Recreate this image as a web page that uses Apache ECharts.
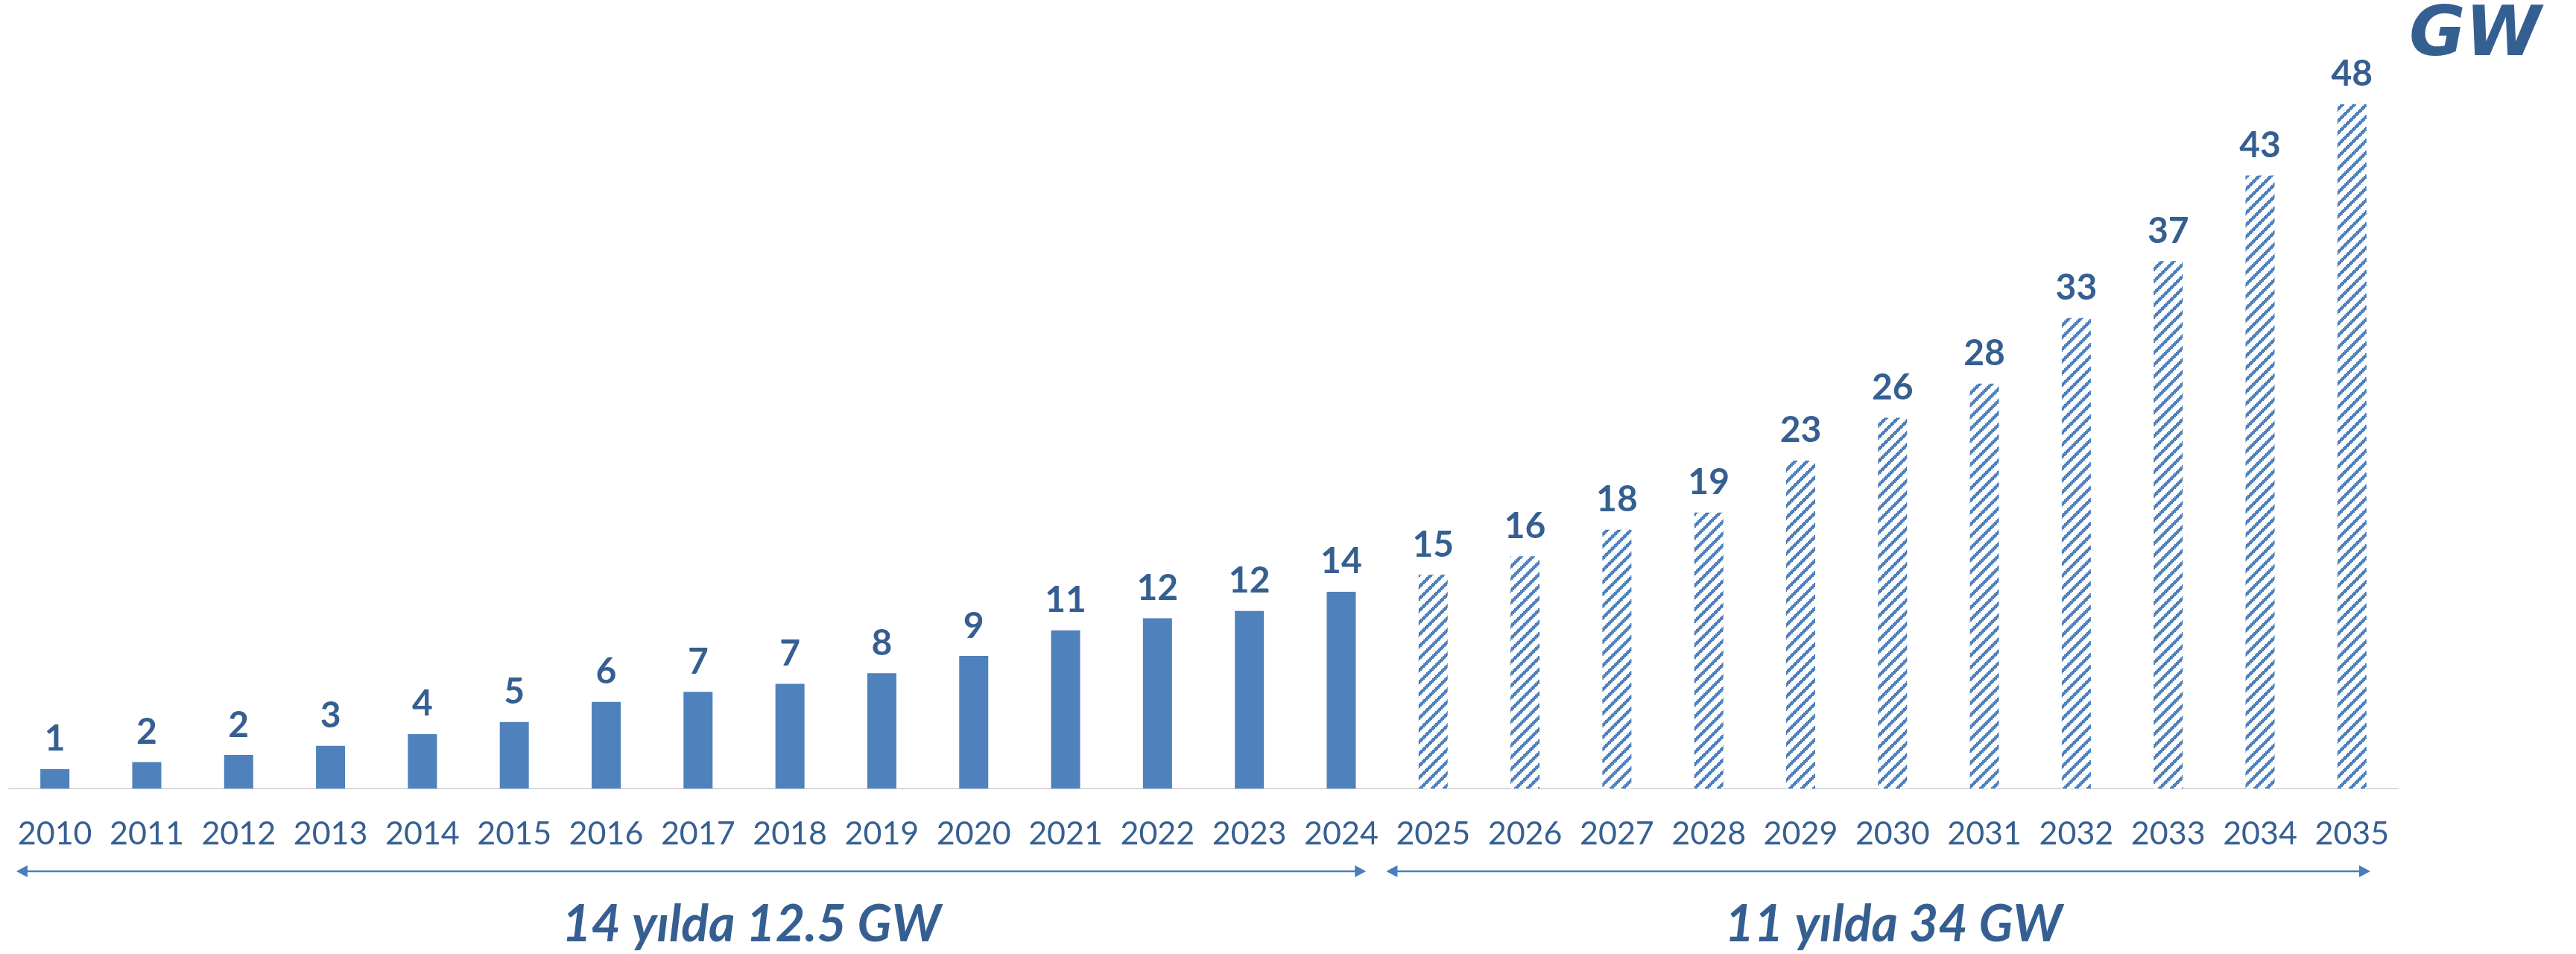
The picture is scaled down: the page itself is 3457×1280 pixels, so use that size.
<!DOCTYPE html>
<html><head><meta charset="utf-8">
<script src="https://cdn.jsdelivr.net/npm/echarts@6/dist/echarts.min.js"></script>
<style>html,body{margin:0;padding:0;background:#fff}#c{width:3457px;height:1280px}</style>
</head><body><div id="c"></div>
<script>
// ---- data ----
const years = ['2010','2011','2012','2013','2014','2015','2016','2017','2018','2019','2020','2021','2022','2023','2024','2025','2026','2027','2028','2029','2030','2031','2032','2033','2034','2035'];
const actualValues = [1.36, 1.85, 2.35, 2.99, 3.82, 4.67, 6.08, 6.78, 7.35, 8.09, 9.3, 11.1, 11.95, 12.45, 13.8];
const forecastValues = [15.0, 16.3, 18.15, 19.35, 23.0, 26.0, 28.4, 33.0, 37.0, 43.0, 48.0];
const unitLabel = 'GW';
const periodLabels = ['14 yılda 12.5 GW', '11 yılda 34 GW'];

// ---- styles ----
const BAR = '#4F81BD', DARK = '#365F91', ARROW = '#4A7EBB';
function makeHatch(){
  const c = document.createElement('canvas'); c.width = 16; c.height = 16;
  const g = c.getContext('2d'); g.fillStyle = '#fff'; g.fillRect(0,0,16,16);
  g.fillStyle = BAR;
  for (let ry = 0; ry < 8; ry++) for (let cx = 0; cx < 8; cx++)
    if (((cx + ry) % 8) < 3) g.fillRect(cx*2, ry*2, 2, 2);
  return c;
}
const hatch = { image: makeHatch(), repeat: 'repeat' };

const seriesData = actualValues.map(v => v).concat(
  forecastValues.map(v => ({ value: v, itemStyle: { color: hatch } })));

const chart = echarts.init(document.getElementById('c'), null, { renderer: 'canvas' });
const option = {
  animation: false,
  backgroundColor: '#fff',
  grid: { left: 12, right: 239, top: 101.5, bottom: 222, containLabel: false },
  xAxis: {
    type: 'category', data: years,
    axisLine: { lineStyle: { color: '#D9D9D9', width: 2 } },
    axisTick: { show: false },
    axisLabel: { interval: 0, color: DARK, fontFamily: 'Lato', fontSize: 43, margin: 40 }
  },
  yAxis: { type: 'value', min: 0, max: 50, show: false, splitLine: { show: false } },
  series: [{
    type: 'bar', data: seriesData, barWidth: 39,
    itemStyle: { color: BAR },
    label: { show: true, position: 'top', distance: 16, formatter: p => Math.round(p.value),
      fontFamily: 'Lato', fontWeight: 'bold', fontSize: 48, color: DARK }
  }]
};
chart.setOption(option);

// ---- annotations positioned through the category axis ----
const x0 = chart.convertToPixel({ xAxisIndex: 0 }, 0);
const x1 = chart.convertToPixel({ xAxisIndex: 0 }, 1);
const X = i => x0 + (x1 - x0) * i;
const arrowY = 1169, textY = 1241;
function arrow(a, b, y){
  const hl = 15, hw = 8;
  return [
    { type: 'line', shape: { x1: a + hl - 2, y1: y, x2: b - hl + 2, y2: y }, style: { stroke: ARROW, lineWidth: 2.5 } },
    { type: 'polygon', shape: { points: [[a, y], [a + hl, y - hw], [a + hl, y + hw]] }, style: { fill: ARROW } },
    { type: 'polygon', shape: { points: [[b, y], [b - hl, y - hw], [b - hl, y + hw]] }, style: { fill: ARROW } }
  ];
}
const txt = (t, x, y) => ({ type: 'text', x: x, y: y, style: { text: t, align: 'center', verticalAlign: 'middle',
  fontFamily: 'Lato', fontWeight: 'bold', fontStyle: 'italic', fontSize: 68, fill: DARK } });
chart.setOption({ graphic: [].concat(
  arrow(X(-0.42), X(14.27), arrowY),
  arrow(X(14.49), X(25.2), arrowY),
  [ txt(periodLabels[0], X(7.58), textY), txt(periodLabels[1], X(20.01), textY),
    { type: 'text', x: 3410, y: 50, style: { text: unitLabel, align: 'right', verticalAlign: 'middle',
      fontFamily: 'DejaVu Sans', fontWeight: 'bold', fontStyle: 'italic', fontSize: 92, fill: DARK } } ]
)});
</script></body></html>
